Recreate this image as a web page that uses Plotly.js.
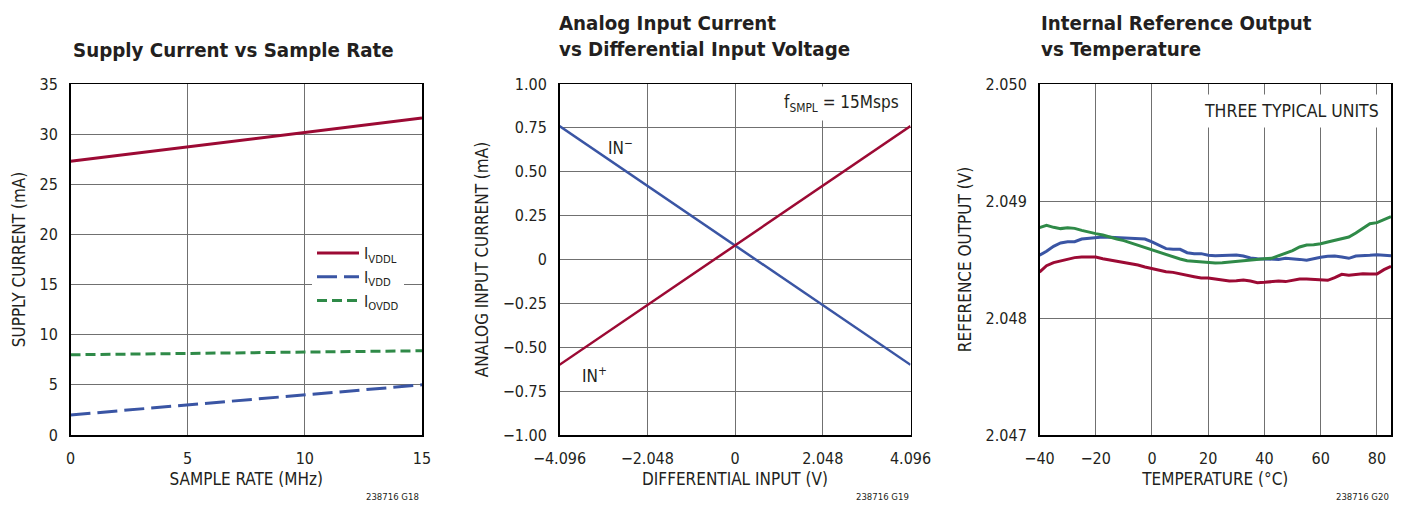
<!DOCTYPE html>
<html>
<head>
<meta charset="utf-8">
<script src="https://cdn.plot.ly/plotly-3.0.1.min.js"></script>
<style>
html,body{margin:0;padding:0;background:#fff;}
#chart{width:1403px;height:506px;}
</style>
</head>
<body>
<div id="chart"></div>
<script>
// ---------- Chart 1: Supply current vs sample rate ----------
const sampleRate = [0, 15];
const iVDDL = [27.3, 31.6];
const iVDD = [2.0, 5.0];
const iOVDD = [8.0, 8.4];

// ---------- Chart 2: Analog input current vs differential input ----------
const diffInput = [-4.096, 0, 4.096];
const inPlus = [-0.60, 0.08, 0.76];
const inMinus = [0.76, 0.08, -0.60];
const diffTicks = [-4.096, -2.048, 0, 2.048, 4.096];
const diffTickText = ["\u22124.096", "\u22122.048", "0", "2.048", "4.096"];
const currTicks = [-1, -0.75, -0.5, -0.25, 0, 0.25, 0.5, 0.75, 1];
const currTickText = ["\u22121.00", "\u22120.75", "\u22120.50", "\u22120.25", "0", "0.25", "0.50", "0.75", "1.00"];

// ---------- Chart 3: Internal reference output vs temperature ----------
const temperature = [-40, -37.5, -35, -32.5, -30, -27.5, -25, -22.5, -20, -17.5, -15, -12.5, -10, -7.5, -5, -2.5,
  0, 2.5, 5, 7.5, 10, 12.5, 15, 17.5, 20, 22.5, 25, 27.5, 30, 32.5, 35, 37.5, 40, 42.5, 45, 47.5, 50, 52.5, 55,
  57.5, 60, 62.5, 65, 67.5, 70, 72.5, 75, 77.5, 80, 82.5, 85];
const unitRed = [2.048393, 2.048447, 2.048473, 2.048487, 2.048504, 2.048516, 2.048521, 2.048524, 2.048521, 2.048507,
  2.048496, 2.048484, 2.048476, 2.048464, 2.048453, 2.048436, 2.048422, 2.048413, 2.048396, 2.048390, 2.048376,
  2.048365, 2.048353, 2.048342, 2.048342, 2.048333, 2.048322, 2.048316, 2.048319, 2.048325, 2.048316, 2.048302,
  2.048305, 2.048311, 2.048316, 2.048311, 2.048325, 2.048333, 2.048333, 2.048330, 2.048328, 2.048322, 2.048345,
  2.048373, 2.048365, 2.048373, 2.048379, 2.048376, 2.048376, 2.048413, 2.048442];
const unitBlue = [2.048536, 2.048570, 2.048613, 2.048641, 2.048652, 2.048652, 2.048675, 2.048681, 2.048684, 2.048692,
  2.048690, 2.048687, 2.048687, 2.048681, 2.048678, 2.048675, 2.048650, 2.048618, 2.048593, 2.048587, 2.048587,
  2.048558, 2.048550, 2.048550, 2.048536, 2.048533, 2.048533, 2.048536, 2.048538, 2.048530, 2.048513, 2.048507,
  2.048507, 2.048504, 2.048501, 2.048510, 2.048507, 2.048501, 2.048493, 2.048507, 2.048519, 2.048527, 2.048530,
  2.048521, 2.048510, 2.048530, 2.048536, 2.048536, 2.048541, 2.048536, 2.048533];
const unitGreen = [2.048772, 2.048792, 2.048775, 2.048764, 2.048772, 2.048766, 2.048749, 2.048732, 2.048721, 2.048709,
  2.048690, 2.048675, 2.048661, 2.048641, 2.048621, 2.048601, 2.048578, 2.048558, 2.048541, 2.048521, 2.048504,
  2.048490, 2.048484, 2.048482, 2.048470, 2.048470, 2.048473, 2.048479, 2.048487, 2.048493, 2.048499, 2.048504,
  2.048507, 2.048510, 2.048530, 2.048550, 2.048576, 2.048607, 2.048624, 2.048627, 2.048635, 2.048650, 2.048664,
  2.048678, 2.048692, 2.048727, 2.048764, 2.048806, 2.048815, 2.048843, 2.048866];
const tempTicks = [-40, -20, 0, 20, 40, 60, 80];
const tempTickText = ["\u221240", "\u221220", "0", "20", "40", "60", "80"];
const refTicks = [2.047, 2.048, 2.049, 2.050];
const refTickText = ["2.047", "2.048", "2.049", "2.050"];

const RED = "#9c0a34", BLUE = "#3a55a4", GREEN = "#2f8a48";
const FONT = "'DejaVu Sans Condensed', 'Liberation Sans Narrow', 'Arial Narrow', sans-serif";
const TXT = "#231f20";

const traces = [
  {x: sampleRate, y: iVDDL, name: "I<sub>VDDL</sub>", mode: "lines", line: {color: RED, width: 3}, xaxis: "x", yaxis: "y"},
  {x: sampleRate, y: iVDD, name: "I<sub>VDD</sub>", mode: "lines", line: {color: BLUE, width: 3, dash: "20px,7px"}, xaxis: "x", yaxis: "y"},
  {x: sampleRate, y: iOVDD, name: "I<sub>OVDD</sub>", mode: "lines", line: {color: GREEN, width: 3, dash: "10px,5px"}, xaxis: "x", yaxis: "y"},
  {x: diffInput, y: inMinus, name: "IN-", mode: "lines", line: {color: BLUE, width: 2.5}, xaxis: "x2", yaxis: "y2", showlegend: false},
  {x: diffInput, y: inPlus, name: "IN+", mode: "lines", line: {color: RED, width: 2.5}, xaxis: "x2", yaxis: "y2", showlegend: false},
  {x: temperature, y: unitRed, name: "Unit 1", mode: "lines", line: {color: RED, width: 3}, xaxis: "x3", yaxis: "y3", showlegend: false},
  {x: temperature, y: unitBlue, name: "Unit 2", mode: "lines", line: {color: BLUE, width: 3}, xaxis: "x3", yaxis: "y3", showlegend: false},
  {x: temperature, y: unitGreen, name: "Unit 3", mode: "lines", line: {color: GREEN, width: 3}, xaxis: "x3", yaxis: "y3", showlegend: false}
];

const W = 1403, H = 506;
const yDom = [1 - 435 / H, 1 - 84 / H];
function ax(extra) {
  return Object.assign({
    showline: true, mirror: true, linecolor: "#000", linewidth: 1.5,
    showgrid: true, gridcolor: "#707070", gridwidth: 1, zeroline: false,
    ticks: "", tickfont: {family: FONT, size: 16, color: TXT},
    fixedrange: true
  }, extra);
}
function t(text, standoff) { return {text: text, standoff: standoff, font: {family: FONT, size: 17, color: TXT}}; }

const layout = {
  width: W, height: H,
  margin: {l: 0, r: 0, t: 0, b: 0},
  paper_bgcolor: "#fff", plot_bgcolor: "#fff",
  font: {family: FONT, color: TXT},
  showlegend: true,
  legend: {x: 312 / W, y: 1 - 236 / H, xanchor: "left", yanchor: "top", bgcolor: "#fff",
    font: {family: FONT, size: 16, color: TXT}, tracegroupgap: 0, itemwidth: 42},
  xaxis: ax({domain: [70.5 / W, 422 / W], range: [0, 15], tickvals: [0, 5, 10, 15], ticklabelstandoff: 8,
    title: t("SAMPLE RATE (MHz)", 6), anchor: "y"}),
  yaxis: ax({domain: yDom, range: [0, 35], tickvals: [0, 5, 10, 15, 20, 25, 30, 35], ticklabelstandoff: 8,
    title: t("SUPPLY CURRENT (mA)", 9), anchor: "x"}),
  xaxis2: ax({domain: [559.5 / W, 910.5 / W], range: [-4.096, 4.096], tickvals: diffTicks, ticktext: diffTickText,
    ticklabelstandoff: 8, title: t("DIFFERENTIAL INPUT (V)", 6), anchor: "y2"}),
  yaxis2: ax({domain: yDom, range: [-1, 1], tickvals: currTicks, ticktext: currTickText, ticklabelstandoff: 8,
    title: t("ANALOG INPUT CURRENT (mA)", 9), anchor: "x2"}),
  xaxis3: ax({domain: [1039.5 / W, 1391 / W], range: [-40, 85], tickvals: tempTicks, ticktext: tempTickText,
    ticklabelstandoff: 8, title: t("TEMPERATURE (°C)", 6), anchor: "y3"}),
  yaxis3: ax({domain: yDom, range: [2.047, 2.050], tickvals: refTicks, ticktext: refTickText, ticklabelstandoff: 8,
    title: t("REFERENCE OUTPUT (V)", 9), anchor: "x3"}),
  annotations: [
    {xref: "paper", yref: "paper", x: 71 / W, y: 1 - 50 / H, xanchor: "left", yanchor: "middle", showarrow: false,
      text: "<b>Supply Current vs Sample Rate</b>", font: {family: FONT, size: 20.3, color: TXT}},
    {xref: "paper", yref: "paper", x: 557 / W, y: 1 - 36 / H, xanchor: "left", yanchor: "middle", showarrow: false, align: "left",
      text: "<b>Analog Input Current<br>vs Differential Input Voltage</b>", font: {family: FONT, size: 20.3, color: TXT}},
    {xref: "paper", yref: "paper", x: 1039 / W, y: 1 - 36 / H, xanchor: "left", yanchor: "middle", showarrow: false, align: "left",
      text: "<b>Internal Reference Output<br>vs Temperature</b>", font: {family: FONT, size: 20.3, color: TXT}},
    {xref: "x2 domain", yref: "y2 domain", x: (905 - 559.5) / 351, y: (435 - 103) / 351, xanchor: "right", yanchor: "middle",
      showarrow: false, bgcolor: "#fff", borderpad: 5, text: "f<sub>SMPL</sub> = 15Msps", font: {family: FONT, size: 17, color: TXT}},
    {xref: "x2 domain", yref: "y2 domain", x: (620 - 559.5) / 351, y: (435 - 147) / 351, xanchor: "center", yanchor: "middle",
      showarrow: false, text: "IN<sup>\u2212</sup>", font: {family: FONT, size: 17, color: TXT}},
    {xref: "x2 domain", yref: "y2 domain", x: (594 - 559.5) / 351, y: (435 - 375) / 351, xanchor: "center", yanchor: "middle",
      showarrow: false, text: "IN<sup>+</sup>", font: {family: FONT, size: 17, color: TXT}},
    {xref: "x3 domain", yref: "y3 domain", x: (1386 - 1039.5) / 351.5, y: (435 - 111) / 351, xanchor: "right", yanchor: "middle",
      showarrow: false, bgcolor: "#fff", borderpad: 6, text: "THREE TYPICAL UNITS", font: {family: FONT, size: 17.5, color: TXT}},
    {xref: "paper", yref: "paper", x: 421 / W, y: 1 - 496 / H, xanchor: "right", yanchor: "middle", showarrow: false,
      text: "238716 G18", font: {family: FONT, size: 9.5, color: TXT}},
    {xref: "paper", yref: "paper", x: 911 / W, y: 1 - 496 / H, xanchor: "right", yanchor: "middle", showarrow: false,
      text: "238716 G19", font: {family: FONT, size: 9.5, color: TXT}},
    {xref: "paper", yref: "paper", x: 1391 / W, y: 1 - 496 / H, xanchor: "right", yanchor: "middle", showarrow: false,
      text: "238716 G20", font: {family: FONT, size: 9.5, color: TXT}}
  ]
};

Plotly.newPlot("chart", traces, layout, {displayModeBar: false, staticPlot: true});
</script>
</body>
</html>
